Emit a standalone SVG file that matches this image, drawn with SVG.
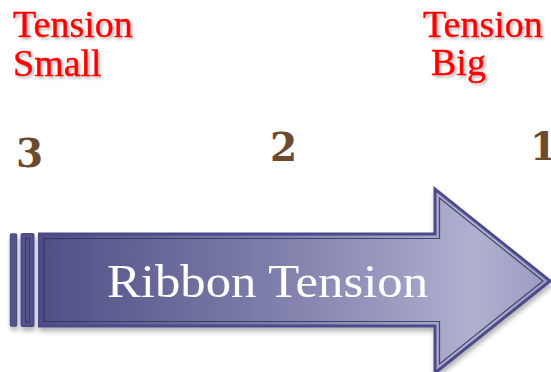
<svg xmlns="http://www.w3.org/2000/svg" width="551" height="372" viewBox="0 0 551 372">
<style>
.lbl{font-family:"Liberation Serif","Times New Roman",serif;font-size:38px;fill:#ff0000;stroke:#ff0000;stroke-width:0.4;filter:url(#tshadow)}
.num{font-family:"DejaVu Serif",Georgia,serif;font-weight:bold;font-size:39px;fill:#6b4a2e}
.outer{fill:url(#grad);stroke:#4b4b8c;stroke-width:3;stroke-linejoin:miter}
.inner{fill:none;stroke:#2e2e55;stroke-width:1.2;opacity:0.8}
.main{font-family:"Liberation Serif","Times New Roman",serif;font-size:46px;fill:#ffffff}
</style>
<defs>
<linearGradient id="grad" x1="39" y1="0" x2="551" y2="0" gradientUnits="userSpaceOnUse">
<stop offset="0" stop-color="#4f4f86"/>
<stop offset="0.5" stop-color="#8383ae"/>
<stop offset="0.85" stop-color="#b0b0d0"/>
<stop offset="1" stop-color="#9a9ac2"/>
</linearGradient>
<filter id="tshadow" x="-10%" y="-20%" width="130%" height="150%">
<feGaussianBlur in="SourceAlpha" stdDeviation="1.5"/>
<feOffset dx="2" dy="2" result="b"/>
<feComponentTransfer><feFuncA type="linear" slope="0.3"/></feComponentTransfer>
<feMerge><feMergeNode/><feMergeNode in="SourceGraphic"/></feMerge>
</filter>
<filter id="ashadow" x="-10%" y="-10%" width="120%" height="130%">
<feGaussianBlur in="SourceAlpha" stdDeviation="2.5"/>
<feOffset dx="1" dy="4"/>
<feComponentTransfer><feFuncA type="linear" slope="0.3"/></feComponentTransfer>
<feMerge><feMergeNode/><feMergeNode in="SourceGraphic"/></feMerge>
</filter>
</defs>
<rect width="551" height="372" fill="#ffffff"/>
<g id="label-small">
<text class="lbl" x="13" y="37">Tension</text>
<text class="lbl" x="13" y="76">Small</text>
</g>
<g id="label-big">
<text class="lbl" x="423" y="37">Tension</text>
<text class="lbl" x="431" y="75">Big</text>
</g>
<g id="numbers">
<text class="num" x="16" y="167">3</text>
<text class="num" x="270" y="161">2</text>
<text class="num" x="530" y="160">1</text>
</g>
<g id="arrow" filter="url(#ashadow)">
<rect x="10.5" y="234" width="6" height="92" rx="1" fill="#55558c" stroke="#4b4b8c" stroke-width="1.5"/>
<rect x="21.5" y="234" width="12" height="92" rx="1" fill="#55558c" stroke="#4b4b8c" stroke-width="2"/>
<rect x="25.5" y="238" width="4" height="84" fill="none" stroke="#2e2e55" stroke-width="1" opacity="0.8"/>
<path class="outer" d="M39.5,234 H435 V189 L550,281 L435,373 V326 H39.5 Z"/>
<path class="inner" d="M44,238.5 H439.5 V198 L543,281 L439.5,364 V321.5 H44 Z"/>
<text class="main" x="107" y="297" textLength="321" lengthAdjust="spacingAndGlyphs">Ribbon Tension</text>
</g>
</svg>
